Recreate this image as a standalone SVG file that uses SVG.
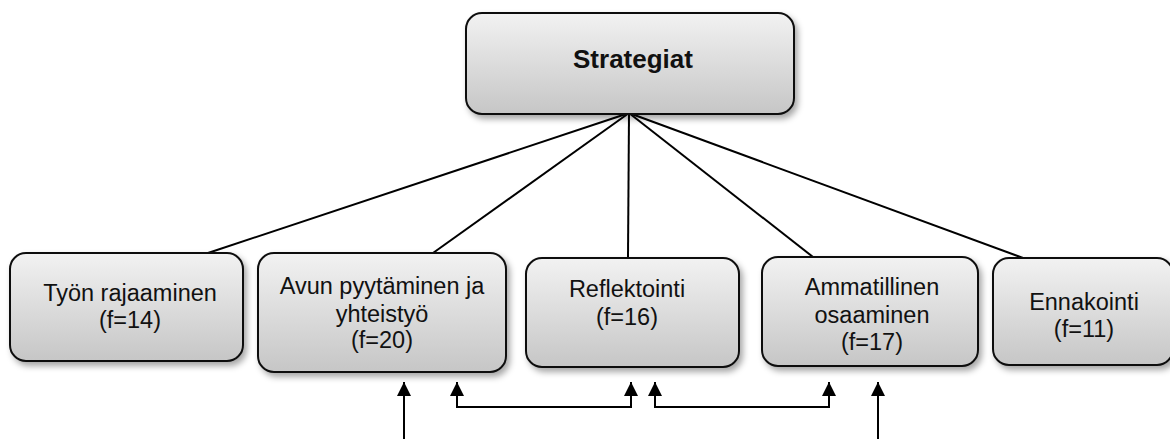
<svg xmlns="http://www.w3.org/2000/svg" width="1170" height="439" viewBox="0 0 1170 439">
<defs>
<linearGradient id="g" x1="0" y1="0" x2="0" y2="1">
<stop offset="0" stop-color="#f2f2f2"/>
<stop offset="1" stop-color="#c6c6c6"/>
</linearGradient>
<filter id="sh" x="-10%" y="-10%" width="130%" height="140%">
<feDropShadow dx="3" dy="4" stdDeviation="3" flood-color="#000" flood-opacity="0.35"/>
</filter>
<marker id="ah" viewBox="0 0 14 14" refX="14" refY="7" markerWidth="14" markerHeight="14" markerUnits="userSpaceOnUse" orient="auto-start-reverse">
<path d="M0,0 L14,7 L0,14 Z" fill="#000"/>
</marker>
</defs>
<style>
.box{fill:url(#g);stroke:#111;stroke-width:2;filter:url(#sh)}
.t{font-family:"Liberation Sans",Arial,sans-serif;font-size:23.5px;fill:#111;text-anchor:middle}
.tb{font-family:"Liberation Sans",Arial,sans-serif;font-size:26px;font-weight:bold;fill:#111;text-anchor:middle}
.ln{fill:none;stroke:#000;stroke-width:2}
</style>
<g id="connectors">
<line class="ln" x1="629" y1="113" x2="208" y2="253"/>
<line class="ln" x1="629" y1="113" x2="433" y2="253"/>
<line class="ln" x1="629" y1="113" x2="628" y2="258"/>
<line class="ln" x1="629" y1="113" x2="813" y2="257"/>
<line class="ln" x1="629" y1="113" x2="1023" y2="258"/>
<path class="ln" d="M404,439 L404,382" marker-end="url(#ah)"/>
<path class="ln" d="M457,382 L457,407 L631,407 L631,382" marker-start="url(#ah)" marker-end="url(#ah)"/>
<path class="ln" d="M655,382 L655,407 L829,407 L829,382" marker-start="url(#ah)" marker-end="url(#ah)"/>
<path class="ln" d="M878,439 L878,382" marker-end="url(#ah)"/>
</g>
<g id="strategiat">
<rect class="box" x="466" y="13" width="328" height="101" rx="16"/>
<text class="tb" x="633" y="68">Strategiat</text>
</g>
<g id="tyon-rajaaminen">
<rect class="box" x="10" y="253" width="233" height="108" rx="16"/>
<text class="t" x="130" y="301">Työn rajaaminen</text>
<text class="t" x="130" y="328">(f=14)</text>
</g>
<g id="avun-pyytaminen">
<rect class="box" x="258" y="253" width="248" height="119" rx="16"/>
<text class="t" x="382" y="294">Avun pyytäminen ja</text>
<text class="t" x="382" y="322">yhteistyö</text>
<text class="t" x="382" y="348">(f=20)</text>
</g>
<g id="reflektointi">
<rect class="box" x="526" y="258" width="213" height="109" rx="16"/>
<text class="t" x="627" y="297">Reflektointi</text>
<text class="t" x="627" y="325">(f=16)</text>
</g>
<g id="ammatillinen-osaaminen">
<rect class="box" x="762" y="257" width="216" height="109" rx="16"/>
<text class="t" x="872" y="295">Ammatillinen</text>
<text class="t" x="872" y="323">osaaminen</text>
<text class="t" x="872" y="350">(f=17)</text>
</g>
<g id="ennakointi">
<rect class="box" x="993" y="258" width="180" height="107" rx="16"/>
<text class="t" x="1084" y="310">Ennakointi</text>
<text class="t" x="1084" y="337">(f=11)</text>
</g>
</svg>
